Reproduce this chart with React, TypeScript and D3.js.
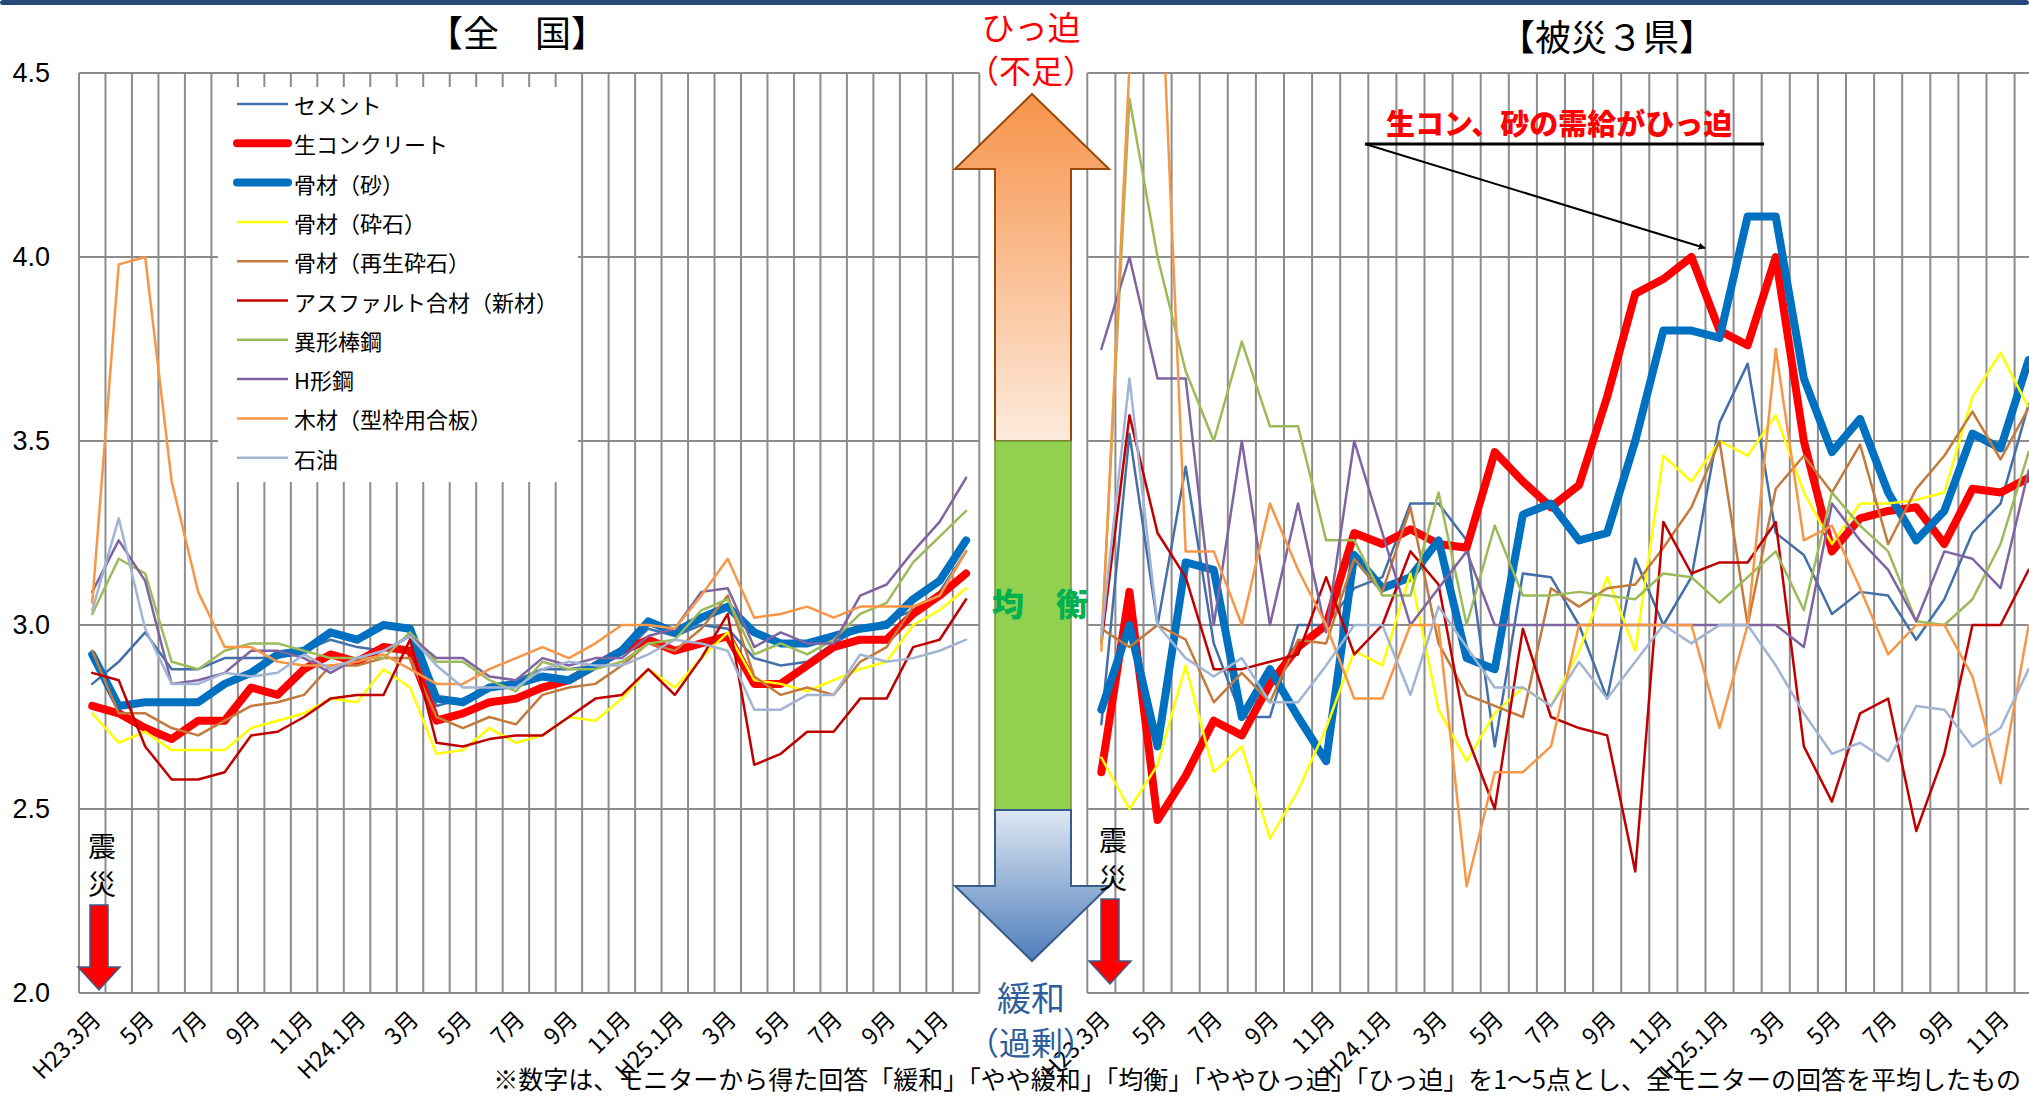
import React, { useEffect } from "react";
import * as d3 from "d3";

// months on the category axis (H23.3 - H25.12)
const months = [
  "H23.3", "H23.4", "H23.5", "H23.6", "H23.7", "H23.8", "H23.9", "H23.10", "H23.11", "H23.12",
  "H24.1", "H24.2", "H24.3", "H24.4", "H24.5", "H24.6", "H24.7", "H24.8", "H24.9", "H24.10", "H24.11", "H24.12",
  "H25.1", "H25.2", "H25.3", "H25.4", "H25.5", "H25.6", "H25.7", "H25.8", "H25.9", "H25.10", "H25.11", "H25.12"
];
// labels shown every other month
const tickLabels = [
  "H23.3月", "5月", "7月", "9月", "11月", "H24.1月", "3月", "5月", "7月", "9月", "11月",
  "H25.1月", "3月", "5月", "7月", "9月", "11月"
];
const yTicks = [2.0, 2.5, 3.0, 3.5, 4.0, 4.5];

const seriesNames = [
  "セメント", "生コンクリート", "骨材（砂）", "骨材（砕石）", "骨材（再生砕石）",
  "アスファルト合材（新材）", "異形棒鋼", "H形鋼", "木材（型枠用合板）", "石油"
];
const seriesColors = [
  "#4370A9", "#FF0000", "#0070C0", "#FFFF00", "#C27B3C",
  "#C00000", "#9BBB59", "#8064A2", "#F79646", "#A2B4D4"
];

// 全国
const cementAll = [2.84, 2.90, 2.98, 2.88, 2.88, 2.91, 2.91, 2.91, 2.93, 2.96, 2.94, 2.93, 2.97, 2.78, 2.80, 2.83, 2.85, 2.88, 2.88, 2.89, 2.92, 2.99, 2.97, 3.00, 2.99, 2.91, 2.89, 2.90, 2.95, 2.99, 3.01, 3.04, 3.09, 3.20];
const concreteAll = [2.78, 2.76, 2.72, 2.69, 2.74, 2.74, 2.83, 2.81, 2.88, 2.92, 2.90, 2.94, 2.93, 2.74, 2.76, 2.79, 2.80, 2.83, 2.85, 2.89, 2.93, 2.96, 2.93, 2.95, 2.97, 2.84, 2.84, 2.89, 2.94, 2.96, 2.96, 3.03, 3.08, 3.14];
const sandAll = [2.92, 2.78, 2.79, 2.79, 2.79, 2.84, 2.87, 2.92, 2.93, 2.98, 2.96, 3.00, 2.99, 2.80, 2.79, 2.83, 2.84, 2.86, 2.85, 2.89, 2.93, 3.01, 2.98, 3.02, 3.05, 2.98, 2.95, 2.95, 2.97, 2.99, 3.00, 3.07, 3.12, 3.23];
const crushedAll = [2.76, 2.68, 2.71, 2.66, 2.66, 2.66, 2.72, 2.74, 2.76, 2.80, 2.79, 2.88, 2.83, 2.65, 2.66, 2.72, 2.68, 2.70, 2.75, 2.74, 2.80, 2.88, 2.83, 2.91, 2.98, 2.85, 2.84, 2.82, 2.85, 2.88, 2.90, 3.00, 3.04, 3.10];
const recycledAll = [2.93, 2.76, 2.76, 2.72, 2.70, 2.74, 2.78, 2.79, 2.81, 2.89, 2.89, 2.91, 2.91, 2.75, 2.72, 2.75, 2.73, 2.81, 2.83, 2.84, 2.89, 2.95, 2.93, 2.99, 3.08, 2.86, 2.81, 2.83, 2.81, 2.90, 2.94, 3.05, 3.08, 3.20];
const asphaltAll = [2.87, 2.85, 2.67, 2.58, 2.58, 2.60, 2.70, 2.71, 2.75, 2.80, 2.81, 2.81, 2.96, 2.68, 2.67, 2.69, 2.70, 2.70, 2.75, 2.80, 2.81, 2.88, 2.81, 2.91, 3.03, 2.62, 2.65, 2.71, 2.71, 2.80, 2.80, 2.94, 2.96, 3.07];
const barAll = [3.03, 3.18, 3.14, 2.90, 2.88, 2.93, 2.95, 2.95, 2.93, 2.91, 2.91, 2.91, 2.98, 2.90, 2.90, 2.85, 2.82, 2.90, 2.88, 2.88, 2.90, 2.95, 2.96, 3.04, 3.07, 2.92, 2.95, 2.92, 2.96, 3.03, 3.06, 3.17, 3.24, 3.31];
const hBeamAll = [3.09, 3.23, 3.12, 2.84, 2.85, 2.87, 2.93, 2.93, 2.91, 2.87, 2.91, 2.93, 2.97, 2.91, 2.91, 2.86, 2.85, 2.91, 2.89, 2.91, 2.91, 2.97, 2.99, 3.09, 3.10, 2.94, 2.98, 2.95, 2.95, 3.08, 3.11, 3.20, 3.28, 3.40];
const woodAll = [3.06, 3.98, 4.00, 3.39, 3.09, 2.94, 2.94, 2.90, 2.89, 2.89, 2.90, 2.92, 2.88, 2.84, 2.84, 2.88, 2.91, 2.94, 2.91, 2.95, 3.00, 3.00, 2.99, 3.08, 3.18, 3.02, 3.03, 3.05, 3.02, 3.05, 3.05, 3.05, 3.08, 3.20];
const oilAll = [3.04, 3.29, 2.99, 2.84, 2.84, 2.87, 2.86, 2.87, 2.92, 2.88, 2.91, 2.93, 2.97, 2.89, 2.83, 2.83, 2.83, 2.88, 2.90, 2.89, 2.89, 2.92, 2.96, 2.95, 2.93, 2.77, 2.77, 2.81, 2.81, 2.92, 2.90, 2.91, 2.93, 2.96];

// 被災3県
const cement3 = [2.73, 3.52, 3.00, 3.43, 2.95, 2.75, 2.75, 3.00, 3.00, 3.10, 3.13, 3.33, 3.33, 3.23, 2.67, 3.14, 3.13, 3.00, 2.80, 3.18, 3.00, 3.13, 3.55, 3.71, 3.25, 3.19, 3.03, 3.09, 3.08, 2.96, 3.07, 3.25, 3.33, 3.60];
const concrete3 = [2.60, 3.09, 2.47, 2.59, 2.74, 2.70, 2.84, 2.94, 3.00, 3.25, 3.22, 3.26, 3.22, 3.21, 3.47, 3.39, 3.32, 3.38, 3.62, 3.90, 3.94, 4.00, 3.80, 3.76, 4.00, 3.50, 3.20, 3.29, 3.31, 3.32, 3.22, 3.37, 3.36, 3.40];
const sand3 = [2.77, 3.00, 2.67, 3.17, 3.15, 2.75, 2.88, 2.75, 2.63, 3.19, 3.10, 3.13, 3.23, 2.91, 2.88, 3.30, 3.33, 3.23, 3.25, 3.50, 3.80, 3.80, 3.78, 4.11, 4.11, 3.67, 3.47, 3.56, 3.36, 3.23, 3.31, 3.52, 3.48, 3.72];
const crushed3 = [2.64, 2.50, 2.62, 2.89, 2.60, 2.67, 2.42, 2.55, 2.72, 2.93, 2.89, 3.14, 2.77, 2.63, 2.76, 2.83, 2.78, 2.93, 3.13, 2.93, 3.46, 3.39, 3.50, 3.46, 3.57, 3.36, 3.22, 3.33, 3.33, 3.34, 3.36, 3.62, 3.74, 3.59];
const recycled3 = [2.99, 2.94, 3.00, 2.96, 2.79, 2.87, 2.79, 2.96, 2.95, 3.18, 3.09, 3.32, 2.95, 2.81, 2.78, 2.75, 3.10, 3.05, 3.10, 3.11, 3.21, 3.32, 3.50, 3.00, 3.37, 3.46, 3.36, 3.49, 3.22, 3.37, 3.46, 3.58, 3.45, 3.59];
const asphalt3 = [2.95, 3.57, 3.25, 3.13, 2.88, 2.88, 2.90, 2.92, 3.13, 2.92, 3.00, 3.20, 3.11, 2.70, 2.50, 2.99, 2.75, 2.72, 2.70, 2.33, 3.28, 3.14, 3.17, 3.17, 3.28, 2.67, 2.52, 2.76, 2.80, 2.44, 2.65, 3.00, 3.00, 3.15];
const bar3 = [2.95, 4.43, 4.00, 3.69, 3.50, 3.77, 3.54, 3.54, 3.23, 3.23, 3.08, 3.08, 3.36, 3.00, 3.27, 3.08, 3.08, 3.09, 3.08, 3.07, 3.14, 3.13, 3.06, 3.13, 3.20, 3.04, 3.36, 3.27, 3.20, 3.01, 3.00, 3.07, 3.22, 3.47];
const hBeam3 = [3.75, 4.00, 3.67, 3.67, 3.00, 3.50, 3.00, 3.33, 2.98, 3.50, 3.25, 3.00, 3.10, 3.20, 3.00, 3.00, 3.00, 3.00, 3.00, 3.00, 3.00, 3.00, 3.00, 3.00, 3.00, 2.94, 3.33, 3.23, 3.15, 3.01, 3.20, 3.18, 3.10, 3.42];
const wood3 = [2.93, 4.52, 5.00, 3.20, 3.20, 3.00, 3.33, 3.15, 3.00, 2.80, 2.80, 3.00, 3.00, 2.29, 2.60, 2.60, 2.67, 3.00, 3.00, 3.00, 3.00, 3.00, 2.72, 3.00, 3.75, 3.23, 3.27, 3.10, 2.92, 3.00, 3.00, 2.86, 2.57, 3.00];
const oil3 = [2.97, 3.67, 3.00, 2.91, 2.86, 2.91, 2.79, 2.79, 2.89, 3.00, 3.00, 2.81, 3.05, 2.94, 2.83, 2.83, 2.78, 2.90, 2.80, 2.90, 3.00, 2.95, 3.00, 3.00, 2.89, 2.76, 2.65, 2.68, 2.63, 2.78, 2.77, 2.67, 2.72, 2.88];

const allSeries = [cementAll, concreteAll, sandAll, crushedAll, recycledAll, asphaltAll, barAll, hBeamAll, woodAll, oilAll];
const areaSeries = [cement3, concrete3, sand3, crushed3, recycled3, asphalt3, bar3, hBeam3, wood3, oil3];
const thick = [false, true, true, false, false, false, false, false, false, false];

const W = 2029;
const H = 1096;
const TOP = 73;
const BOTTOM = 993;
const FONT = "'Noto Sans CJK JP', 'Noto Sans', sans-serif";
const GRID = "#8c8c8c";

const y = d3.scaleLinear().domain([2, 4.5]).range([BOTTOM, TOP]);
const xAll = d3.scaleBand<string>().domain(months).range([79, 79 + 34 * 26.48]);
const xArea = d3.scaleBand<string>().domain(months).range([1087.3, 1087.3 + 34 * 28.1]);

function Panel({ x, data, id, legend }: { x: d3.ScaleBand<string>; data: number[][]; id: string; legend: boolean }) {
  const bw = x.bandwidth();
  const [x0, x1full] = x.range();
  const x1 = Math.min(x1full, W);
  const cx = (i: number) => (x(months[i]) as number) + bw / 2;
  const line = d3.line<number>().x((_, i) => cx(i)).y(d => y(d));
  const vLines = d3.range(0, months.length + 1).map(i => x0 + i * bw).filter(v => v <= W);

  return (
    <g>
      <defs>
        <clipPath id={id}>
          <rect x={x0} y={TOP} width={x1 - x0} height={BOTTOM - TOP} />
        </clipPath>
      </defs>
      {vLines.map((v, i) => (
        <line key={"v" + i} x1={v} x2={v} y1={TOP} y2={BOTTOM} stroke={GRID} strokeWidth={2} />
      ))}
      {yTicks.map(t => (
        <line key={"h" + t} x1={x0} x2={x1} y1={y(t)} y2={y(t)} stroke={GRID} strokeWidth={2} />
      ))}
      {legend && <rect x={218} y={87} width={360} height={395} fill="#fff" />}
      <g clipPath={`url(#${id})`}>
        {data.map((s, k) => (
          <path
            key={k}
            d={line(s) || ""}
            fill="none"
            stroke={seriesColors[k]}
            strokeWidth={thick[k] ? 8 : 2.5}
            strokeLinejoin="round"
            strokeLinecap="round"
          />
        ))}
      </g>
      {tickLabels.map((lab, k) => (
        <text
          key={"t" + k}
          transform={`translate(${cx(k * 2) + 3},${1014}) rotate(-45)`}
          textAnchor="end"
          dominantBaseline="central"
          fontSize={23}
          fontFamily={FONT}
        >
          {lab}
        </text>
      ))}
    </g>
  );
}

function QuakeArrow({ cx, top }: { cx: number; top: number }) {
  const pts = [
    [cx - 9, top], [cx + 9, top], [cx + 9, top + 62], [cx + 21, top + 62],
    [cx, top + 85], [cx - 21, top + 62], [cx - 9, top + 62]
  ];
  return (
    <g>
      <polygon points={pts.map(p => p.join(",")).join(" ")} fill="#FF0000" stroke="#385D8A" strokeWidth={1.5} />
      <text x={cx + 3} y={top - 60} textAnchor="middle" dominantBaseline="central" fontSize={28} fontFamily={FONT}>震</text>
      <text x={cx + 3} y={top - 22} textAnchor="middle" dominantBaseline="central" fontSize={28} fontFamily={FONT}>災</text>
    </g>
  );
}

export default function App() {
  useEffect(() => {
    document.body.style.margin = "0";
    document.body.style.overflow = "hidden";
  }, []);

  const upArrow = [[1032, 94], [1109, 169], [1071, 169], [1071, 441], [995, 441], [995, 169], [955, 169]];
  const downArrow = [[995, 810], [1071, 810], [1071, 886], [1109, 886], [1032, 961], [955, 886], [995, 886]];

  return (
    <svg width={W} height={H} style={{ position: "absolute", left: 0, top: 0, background: "#fff" }}>
      <defs>
        <linearGradient id="gUp" x1="0" y1="0" x2="0" y2="1">
          <stop offset="0%" stopColor="#F6934A" />
          <stop offset="100%" stopColor="#FDEBDD" />
        </linearGradient>
        <linearGradient id="gDown" x1="0" y1="0" x2="0" y2="1">
          <stop offset="0%" stopColor="#DDE7F3" />
          <stop offset="100%" stopColor="#4E7DBA" />
        </linearGradient>
        <marker id="arrowHead" viewBox="0 0 10 10" refX="9" refY="5" markerWidth="7" markerHeight="7" orient="auto" markerUnits="userSpaceOnUse">
          <path d="M0,0 L10,5 L0,10 z" fill="#000" />
        </marker>
      </defs>

      <rect x={0} y={0} width={W} height={5} rx={3} fill="#24497A" />

      {yTicks.map(t => (
        <text key={t} x={50} y={y(t)} textAnchor="end" dominantBaseline="central" fontSize={27} fontFamily="'Liberation Sans', Arial, sans-serif">
          {t.toFixed(1)}
        </text>
      ))}

      <Panel x={xAll} data={allSeries} id="clipAll" legend={true} />
      <Panel x={xArea} data={areaSeries} id="clipArea" legend={false} />

      {/* legend */}
      {seriesNames.map((n, k) => (
        <g key={n}>
          <line x1={237} x2={288} y1={104 + k * 39.3} y2={104 + k * 39.3} stroke={seriesColors[k]} strokeWidth={thick[k] ? 8 : 2.5} strokeLinecap={thick[k] ? "round" : "butt"} />
          <text x={294} y={104 + k * 39.3} dominantBaseline="central" fontSize={22} fontFamily={FONT}>{n}</text>
        </g>
      ))}

      <text x={517} y={31} textAnchor="middle" dominantBaseline="central" fontSize={36} fontFamily={FONT}>【全　国】</text>
      <text x={1607} y={35} textAnchor="middle" dominantBaseline="central" fontSize={36} fontFamily={FONT}>【被災３県】</text>

      {/* center scale arrows */}
      <polygon points={upArrow.map(p => p.join(",")).join(" ")} fill="url(#gUp)" stroke="#984807" strokeWidth={2} />
      <rect x={995} y={441} width={76} height={369} fill="#92D050" stroke="#76923C" strokeWidth={1.5} />
      <polygon points={downArrow.map(p => p.join(",")).join(" ")} fill="url(#gDown)" stroke="#385D8A" strokeWidth={2} />
      <text x={1040} y={602} textAnchor="middle" dominantBaseline="central" fontSize={32} fontWeight={900} fill="#00B050" fontFamily={FONT}>均　衡</text>
      <text x={1031} y={26} textAnchor="middle" dominantBaseline="central" fontSize={33} fill="#FF0000" fontFamily={FONT}>ひっ迫</text>
      <text x={1031} y={69} textAnchor="middle" dominantBaseline="central" fontSize={32} fill="#FF0000" fontFamily={FONT}>（不足）</text>
      <text x={1031} y={996} textAnchor="middle" dominantBaseline="central" fontSize={34} fill="#2E5E9A" fontFamily={FONT}>緩和</text>
      <text x={1031} y={1041} textAnchor="middle" dominantBaseline="central" fontSize={32} fill="#2E5E9A" fontFamily={FONT}>（過剰）</text>

      <QuakeArrow cx={99} top={905} />
      <QuakeArrow cx={1110} top={899} />

      {/* annotation */}
      <text x={1386} y={122} dominantBaseline="central" fontSize={29} fontWeight={900} fill="#FF0000" fontFamily={FONT}>生コン、砂の需給がひっ迫</text>
      <line x1={1365} x2={1764} y1={144} y2={144} stroke="#000" strokeWidth={3} />
      <line x1={1365} y1={144} x2={1705} y2={248} stroke="#000" strokeWidth={2} markerEnd="url(#arrowHead)" />

      <text x={2021} y={1078} textAnchor="end" dominantBaseline="central" fontSize={25} fontFamily={FONT}>
        ※数字は、モニターから得た回答「緩和」「やや緩和」「均衡」「ややひっ迫」「ひっ迫」を1～5点とし、全モニターの回答を平均したもの
      </text>
    </svg>
  );
}
